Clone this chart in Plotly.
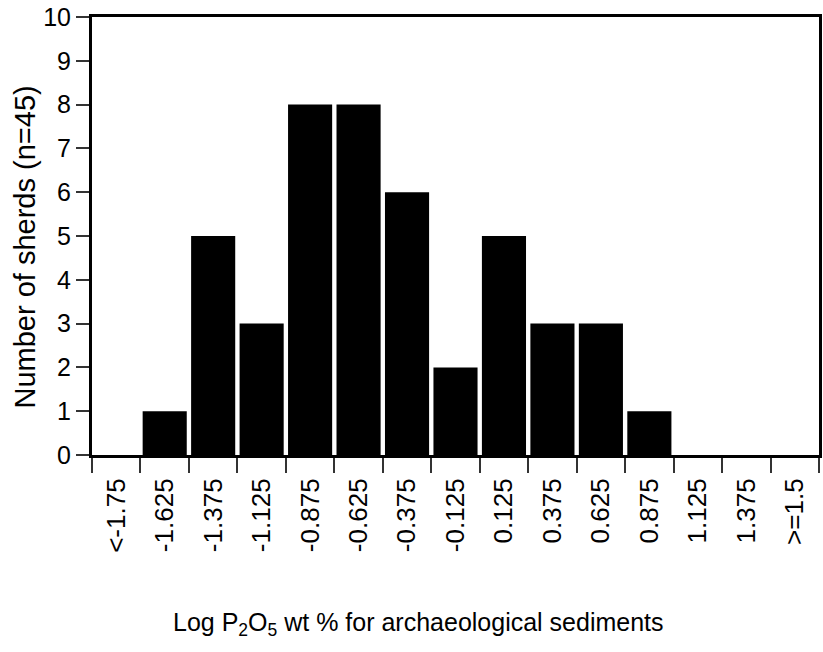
import plotly.graph_objects as go

# Histogram bins of log P2O5 (wt %) and sherd counts per bin
bin_labels = ["<-1.75", "-1.625", "-1.375", "-1.125", "-0.875", "-0.625", "-0.375",
              "-0.125", "0.125", "0.375", "0.625", "0.875", "1.125", "1.375", ">=1.5"]
sherd_counts = [0, 1, 5, 3, 8, 8, 6, 2, 5, 3, 3, 1, 0, 0, 0]
y_ticks = list(range(0, 11))

FONT = "Liberation Sans, Arial, sans-serif"

fig = go.Figure(
    go.Bar(
        x=bin_labels,
        y=sherd_counts,
        marker=dict(color="black", line=dict(width=0)),
        hoverinfo="x+y",
    )
)

fig.update_layout(
    width=823,
    height=652,
    margin=dict(l=92, r=1, t=17, b=197),
    paper_bgcolor="white",
    plot_bgcolor="white",
    bargap=0.09,
    showlegend=False,
    font=dict(family=FONT, size=25, color="black"),
    annotations=[
        dict(
            text="Log P<sub>2</sub>O<sub>5</sub> wt % for archaeological sediments",
            xref="paper", yref="paper", x=0.449, y=-0.386,
            xanchor="center", yanchor="middle", showarrow=False,
            font=dict(family=FONT, size=25, color="black"),
        ),
        dict(
            text="Number of sherds (n=45)",
            xref="paper", yref="paper", x=-0.092, y=0.474,
            xanchor="center", yanchor="middle", showarrow=False, textangle=-90,
            font=dict(family=FONT, size=29, color="black"),
        ),
    ],
)

fig.update_xaxes(
    type="category",
    tickangle=-90,
    ticks="outside",
    tickson="boundaries",
    ticklen=15,
    tickwidth=1.5,
    tickcolor="#333",
    ticklabelstandoff=10,
    showline=True,
    linecolor="black",
    linewidth=3,
    mirror=True,
    showgrid=False,
    tickfont=dict(family=FONT, size=26, color="black"),
)

fig.update_yaxes(
    range=[0, 10],
    tickvals=y_ticks,
    ticks="outside",
    ticklen=13,
    tickwidth=1.5,
    tickcolor="#333",
    showline=True,
    linecolor="black",
    linewidth=3,
    mirror=True,
    showgrid=False,
    zeroline=False,
    tickfont=dict(family=FONT, size=25, color="black"),
)

fig.write_html("out.html")
